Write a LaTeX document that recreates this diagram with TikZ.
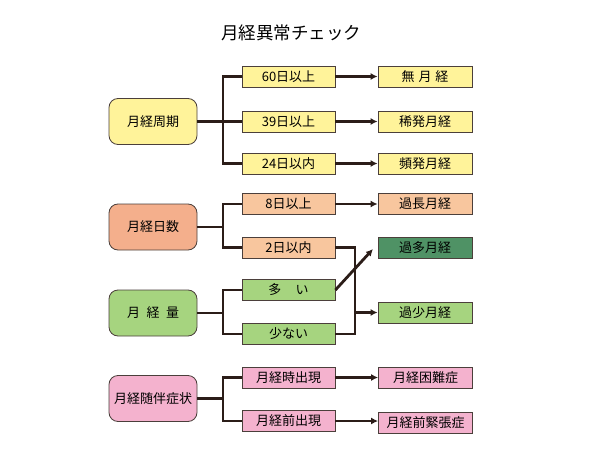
\documentclass[tikz,border=0pt]{standalone}
\usepackage{fontspec}
\setmainfont{Noto Sans CJK JP}
\usetikzlibrary{arrows.meta}
\definecolor{ylw}{HTML}{FFF39A}
\definecolor{sal}{HTML}{F4AF8C}
\definecolor{salm}{HTML}{F8C69E}
\definecolor{grn}{HTML}{A6D47F}
\definecolor{dgrn}{HTML}{4F9265}
\definecolor{pnk}{HTML}{F4B2CE}
\definecolor{ln}{HTML}{2B1D18}
\tikzset{
  catbox/.style={draw=ln!85, line width=0.8pt, rounded corners=9pt, minimum width=88pt, minimum height=46pt, inner sep=0pt, font=\fontsize{13}{13}\selectfont},
  midbox/.style={draw=ln!85, line width=0.8pt, minimum width=93pt, minimum height=21pt, inner sep=0pt, font=\fontsize{13}{13}\selectfont},
  resbox/.style={draw=ln!85, line width=0.8pt, minimum width=94pt, minimum height=21pt, inner sep=0pt, font=\fontsize{13}{13}\selectfont},
  conn/.style={draw=ln, line width=2.8pt},
  arr/.style={draw=ln, line width=2.8pt, -{Latex[length=7pt,width=7pt]}}
}
\begin{document}
\begin{tikzpicture}[x=1pt,y=-1pt]
\useasboundingbox (0,0) rectangle (600,460);
\node (title) at (291,33) {\fontsize{17.5}{17.5}\selectfont 月経異常チェック};
% group 1
\node[catbox, fill=ylw] (c1) at (153,121.5) {月経周期};
\node[midbox, fill=ylw] (m1) at (288.5,76.5) {60日以上};
\node[midbox, fill=ylw] (m2) at (288.5,121.5) {39日以上};
\node[midbox, fill=ylw] (m3) at (288.5,163.5) {24日以内};
\node[resbox, fill=ylw] (r1) at (425,76.5) {無\hspace{0.3em}月\hspace{0.3em}経};
\node[resbox, fill=ylw] (r2) at (425,121.5) {稀発月経};
\node[resbox, fill=ylw] (r3) at (425,163.5) {頻発月経};
\coordinate (j1) at (223,121.5);
\draw[conn] (c1.east) -- (m2.west);
\draw[conn] (m1.west) -| (j1) |- (m3.west);
\draw[arr] (m1.east) -- (r1.west);
\draw[arr] (m2.east) -- (r2.west);
\draw[arr] (m3.east) -- (r3.west);
% group 2
\node[catbox, fill=sal] (c2) at (153,227) {月経日数};
\node[midbox, fill=salm] (m4) at (288.5,204) {8日以上};
\node[midbox, fill=salm] (m5) at (288.5,247.5) {2日以内};
\node[resbox, fill=salm] (r4) at (425,204) {過長月経};
\node[resbox, fill=dgrn] (r5) at (425,248) {過多月経};
\coordinate (j2) at (223,227);
\draw[conn] (c2.east) -- (j2);
\draw[conn] (m4.west) -| (j2) |- (m5.west);
\draw[arr] (m4.east) -- (r4.west);
% group 3
\node[catbox, fill=grn] (c3) at (153,313) {月\hspace{0.5em}経\hspace{0.5em}量};
\node[midbox, fill=grn] (m6) at (288.5,290) {多\hspace{1.1em}い};
\node[midbox, fill=grn] (m7) at (288.5,334) {少ない};
\node[resbox, fill=grn] (r6) at (425,312.5) {過少月経};
\coordinate (j3) at (223,313);
\draw[conn] (c3.east) -- (j3);
\draw[conn] (m6.west) -| (j3) |- (m7.west);
\coordinate (k1) at (355,247.5);
\coordinate (k2) at (355,334);
\coordinate (k3) at (355,312.5);
\draw[conn] (m5.east) -- (k1) -- (k2) -- (m7.east);
\draw[arr] (k3) -- (r6.west);
\coordinate (d1) at (373,249);
\draw[arr] (m6.east) -- (d1);
% group 4
\node[catbox, fill=pnk] (c4) at (153,398.5) {月経随伴症状};
\node[midbox, fill=pnk] (m8) at (288.5,377.5) {月経時出現};
\node[midbox, fill=pnk] (m9) at (288.5,421) {月経前出現};
\node[resbox, fill=pnk] (r8) at (425.5,378) {月経困難症};
\node[resbox, fill=pnk] (r9) at (425.5,423) {月経前緊張症};
\coordinate (j4) at (223,398.5);
\draw[conn] (c4.east) -- (j4);
\draw[conn] (m8.west) -| (j4) |- (m9.west);
\draw[arr] (m8.east) -- (r8.west |- m8.east);
\draw[arr] (m9.east) -- (r9.west |- m9.east);
\end{tikzpicture}
\end{document}
